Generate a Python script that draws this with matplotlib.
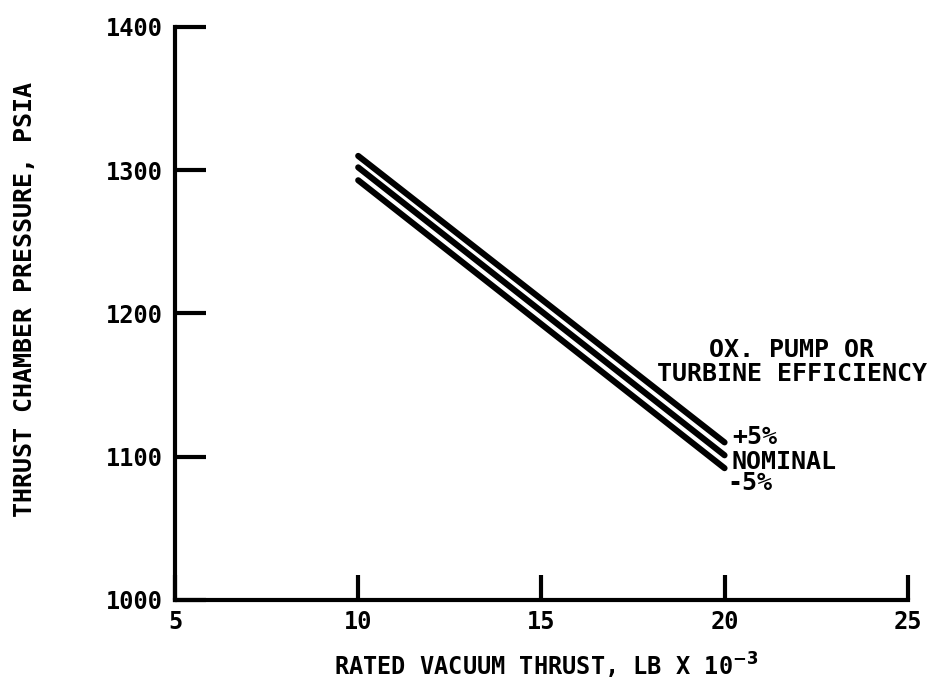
import matplotlib.pyplot as plt
import numpy as np

# thrust (klb) at start and end of each curve
thrust = [10, 20]
pc_plus5 = [1310, 1110]
pc_nominal = [1302, 1101]
pc_minus5 = [1293, 1092]

x_ticks = [5, 10, 15, 20, 25]
y_ticks = [1000, 1100, 1200, 1300, 1400]

plt.rcParams['font.family'] = ['DejaVu Sans Mono', 'DejaVu Sans']
plt.rcParams['font.weight'] = 'bold'
plt.rcParams['mathtext.fontset'] = 'dejavusans'

fig = plt.figure(figsize=(9.31, 6.92), dpi=100)
ax = fig.add_axes([0.188, 0.133, 0.787, 0.828])

for pc in (pc_plus5, pc_nominal, pc_minus5):
    ax.plot(thrust, pc, color='black', lw=4.4, solid_capstyle='round')

ax.set_xlim(5, 25)
ax.set_ylim(1000, 1400)
ax.set_xticks(x_ticks)
ax.set_yticks(y_ticks)
ax.tick_params(axis='y', direction='in', length=22, width=3, labelsize=17, pad=9)
ax.tick_params(axis='x', direction='in', length=18, width=3, labelsize=17, pad=7)

for s in ['top', 'right']:
    ax.spines[s].set_visible(False)
for s in ['left', 'bottom']:
    ax.spines[s].set_linewidth(3)

ax.set_xlabel('RATED VACUUM THRUST, LB X 10$^{\\mathbf{-3}}$', fontsize=17,
              fontweight='bold')
ax.xaxis.set_label_coords(0.506, -0.088)
ax.set_ylabel('THRUST CHAMBER PRESSURE, PSIA', fontsize=18, fontweight='bold')
ax.yaxis.set_label_coords(-0.188, 0.524)

fs = 18
ax.text(21.83, 1166, 'OX. PUMP OR\nTURBINE EFFICIENCY', ha='center', va='center',
        fontsize=fs, fontweight='bold', linespacing=1.0, clip_on=False)
ax.text(20.2, 1113.5, '+5%', fontsize=fs, fontweight='bold', va='center')
ax.text(20.2, 1096.5, 'NOMINAL', fontsize=fs, fontweight='bold', va='center')
ax.text(20.09, 1081.5, '-5%', fontsize=fs, fontweight='bold', va='center')

fig.savefig('out.png', dpi=100)
